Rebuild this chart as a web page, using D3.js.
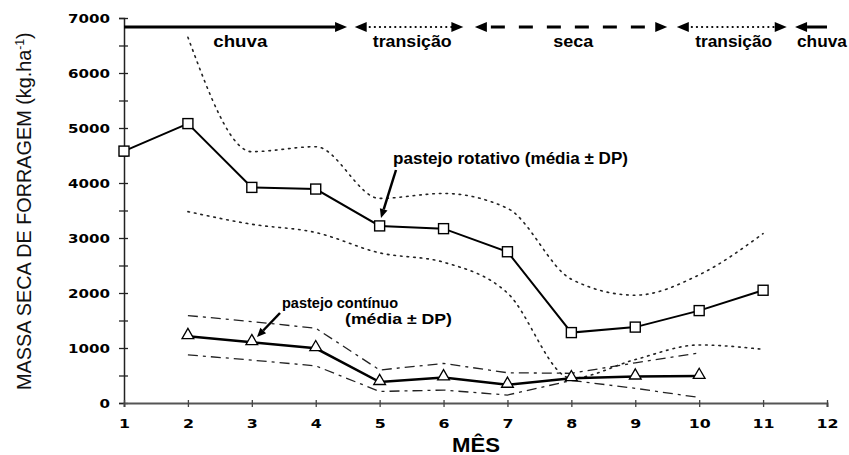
<!DOCTYPE html>
<html>
<head>
<meta charset="utf-8">
<script src="https://cdn.jsdelivr.net/npm/d3@7"></script>
<style>
html,body{margin:0;padding:0;background:#fff;}
svg{display:block;}
text{font-family:"Liberation Sans",Arial,sans-serif;}
</style>
</head>
<body>
<svg id="chart" width="849" height="455"></svg>
<script>
// ---- data ----
const months = [1,2,3,4,5,6,7,8,9,10,11];
const rotMean  = [4580,5080,3920,3890,3220,3170,2750,1280,1380,1680,2050];
const rotUpperMonths = [2,3,4,5,6,7,8,9,10,11];
const rotUpper = [6650,4570,4660,3720,3810,3540,2250,1960,2330,3080];
const rotLower = [3480,3250,3100,2730,2560,2000,450,790,1055,975];
const contMonths = [2,3,4,5,6,7,8,9,10];
const contMean  = [1215,1105,995,380,465,330,450,480,490];
const contUpper = [1590,1480,1360,600,720,550,540,730,910];
const contLower = [875,780,675,210,235,145,410,267,100];
const yTicks = [0,1000,2000,3000,4000,5000,6000,7000];
const xTicks = [1,2,3,4,5,6,7,8,9,10,11,12];
const seasonLabels = ["chuva","transição","seca","transição","chuva"];
const seasonStart  = [1,4.61,6.49,9.65,11.5];
const seasonEnd    = [4.49,6.31,9.50,11.37,12];
const seasonStyle  = ["solid","dotted","dashed","dotted","solid"];
const seasonHeads  = ["right","both","both","both","left"];

// ---- layout ----
const svg = d3.select("#chart");
const x = d3.scaleLinear().domain([1,12]).range([124,827]);
const y = d3.scaleLinear().domain([0,7000]).range([403,18]);

// y axis
const yAxis = d3.axisLeft(y).tickValues(d3.range(0,7001,500)).tickSize(5).tickFormat(d => d%1000===0 ? d : "");
const gy = svg.append("g").attr("transform","translate(124,0)").call(yAxis);
gy.select(".domain").attr("stroke","#222").attr("stroke-width",1.5);
gy.selectAll(".tick line").attr("x1",4).attr("stroke","#222").attr("stroke-width",1.3);
gy.selectAll(".tick text").attr("x",-14).attr("dy","0.35em")
  .style("font-family","DejaVu Sans").style("font-weight","bold").style("font-size","12px").attr("fill","#000")
  .attr("textLength", function(d){ return d%1000===0 ? String(d).length*10.5 : null; })
  .attr("lengthAdjust","spacingAndGlyphs");

// x axis
const xAxis = d3.axisBottom(x).tickValues(xTicks).tickSize(4).tickFormat(d3.format("d"));
const gx = svg.append("g").attr("transform","translate(0,403)").call(xAxis);
gx.select(".domain").attr("stroke","#555").attr("stroke-width",2);
gx.selectAll(".tick line").attr("y1",-3).attr("stroke","#444").attr("stroke-width",1.3);
gx.selectAll(".tick text").attr("y",16).attr("dy","0.71em")
  .style("font-family","DejaVu Sans").style("font-weight","bold").style("font-size","13px").attr("fill","#000")
  .attr("textLength", d => String(d).length*11)
  .attr("lengthAdjust","spacingAndGlyphs");

// axis titles
svg.append("text").attr("x",476).attr("y",452).attr("text-anchor","middle")
  .style("font-weight","bold").style("font-size","20px")
  .attr("textLength",48).attr("lengthAdjust","spacingAndGlyphs").text("MÊS");

const yt = svg.append("text").attr("transform","translate(31,390) rotate(-90)")
  .style("font-size","21px").attr("fill","#111");
yt.append("tspan").text("MASSA SECA DE FORRAGEM (kg.ha");
yt.append("tspan").attr("dy",-7).style("font-size","13px").text("-1");
yt.append("tspan").attr("dy",7).text(")");
(function(){
  const len = yt.node().getComputedTextLength();
  const s = 358/len;
  yt.attr("transform",`translate(31,390) rotate(-90) scale(${s},1)`);
})();

// ---- lines ----
function series(ms, vs){ return ms.map((m,i)=>[m,vs[i]]); }
const lin = d3.line().x(d=>x(d[0])).y(d=>y(d[1]));
const smooth = d3.line().x(d=>x(d[0])).y(d=>y(d[1])).curve(d3.curveMonotoneX);

svg.append("path").attr("d",smooth(series(rotUpperMonths,rotUpper))).attr("fill","none")
  .attr("stroke","#222").attr("stroke-width",1.6).attr("stroke-dasharray","1.6,5").attr("stroke-linecap","round");
svg.append("path").attr("d",smooth(series(rotUpperMonths,rotLower))).attr("fill","none")
  .attr("stroke","#222").attr("stroke-width",1.6).attr("stroke-dasharray","1.6,5").attr("stroke-linecap","round");

svg.append("path").attr("d",lin(series(contMonths,contUpper))).attr("fill","none")
  .attr("stroke","#222").attr("stroke-width",1.3).attr("stroke-dasharray","10,5,3,5");
svg.append("path").attr("d",lin(series(contMonths,contLower))).attr("fill","none")
  .attr("stroke","#222").attr("stroke-width",1.3).attr("stroke-dasharray","10,5,3,5");

svg.append("path").attr("d",lin(series(months,rotMean))).attr("fill","none")
  .attr("stroke","#000").attr("stroke-width",2);
svg.append("path").attr("d",lin(series(contMonths,contMean))).attr("fill","none")
  .attr("stroke","#000").attr("stroke-width",2.5);

// markers
svg.append("g").selectAll("rect").data(series(months,rotMean)).join("rect")
  .attr("x",d=>x(d[0])-5).attr("y",d=>y(d[1])-5).attr("width",10).attr("height",10)
  .attr("fill","#fff").attr("stroke","#000").attr("stroke-width",1.4);
const tri = d3.symbol().type(d3.symbolTriangle).size(60);
svg.append("g").selectAll("path").data(series(contMonths,contMean)).join("path")
  .attr("d",tri).attr("transform",d=>`translate(${x(d[0])},${y(d[1])-1})`)
  .attr("fill","#fff").attr("stroke","#000").attr("stroke-width",1.3);

// ---- annotations ----
function arrow(x1,y1,x2,y2,w,hl,hw){
  const a = Math.atan2(y2-y1,x2-x1);
  const bx = x2 - hl*Math.cos(a), by = y2 - hl*Math.sin(a);
  svg.append("line").attr("x1",x1).attr("y1",y1).attr("x2",bx).attr("y2",by)
    .attr("stroke","#000").attr("stroke-width",w);
  const px = -Math.sin(a)*hw/2, py = Math.cos(a)*hw/2;
  svg.append("path").attr("d",`M${x2},${y2}L${bx+px},${by+py}L${bx-px},${by-py}Z`).attr("fill","#000");
}
svg.append("text").attr("x",393).attr("y",164).style("font-weight","bold").style("font-size","16px")
  .attr("textLength",235).attr("lengthAdjust","spacingAndGlyphs").text("pastejo rotativo (média ± DP)");
arrow(396,170,381,218,2.5,9,8);
svg.append("text").attr("x",282).attr("y",308).style("font-weight","bold").style("font-size","15px")
  .attr("textLength",116).attr("lengthAdjust","spacingAndGlyphs").text("pastejo contínuo");
svg.append("text").attr("x",345).attr("y",324).style("font-weight","bold").style("font-size","15px")
  .attr("textLength",107).attr("lengthAdjust","spacingAndGlyphs").text("(média ± DP)");
arrow(280,313,257,337,2.5,9,8);

// ---- season arrows ----
const ay = 27;
const labelWidths = [54,79,40,77,50];
const labelCenters = [2.82,5.51,8.03,10.54,11.92];
seasonLabels.forEach((lab,i)=>{
  const xs = x(seasonStart[i]), xe = x(seasonEnd[i]);
  const hl = 12, hw = 10;
  const ls = seasonHeads[i]==="left"||seasonHeads[i]==="both" ? xs+hl : xs;
  const le = seasonHeads[i]==="right"||seasonHeads[i]==="both" ? xe-hl : xe;
  const ln = svg.append("line").attr("x1",ls).attr("y1",ay).attr("x2",le).attr("y2",ay).attr("stroke","#000");
  if(seasonStyle[i]==="solid") ln.attr("stroke-width",3);
  if(seasonStyle[i]==="dotted") ln.attr("stroke-width",2.2).attr("stroke-dasharray","0.1,5").attr("stroke-linecap","round").attr("x1",ls+3);
  if(seasonStyle[i]==="dashed") ln.attr("stroke-width",3).attr("stroke-dasharray","14,14").attr("x1",ls+4);
  if(seasonHeads[i]==="right"||seasonHeads[i]==="both")
    svg.append("path").attr("d",`M${xe},${ay}L${xe-hl},${ay-hw/2}L${xe-hl},${ay+hw/2}Z`).attr("fill","#000");
  if(seasonHeads[i]==="left"||seasonHeads[i]==="both")
    svg.append("path").attr("d",`M${xs},${ay}L${xs+hl},${ay-hw/2}L${xs+hl},${ay+hw/2}Z`).attr("fill","#000");
  const t = svg.append("text").attr("y",47).style("font-weight","bold").style("font-size","16px")
    .attr("textLength",labelWidths[i]).attr("lengthAdjust","spacingAndGlyphs").text(lab);
  if(i===4) t.attr("x",797); else t.attr("x",x(labelCenters[i])-labelWidths[i]/2);
});
</script>
</body>
</html>
